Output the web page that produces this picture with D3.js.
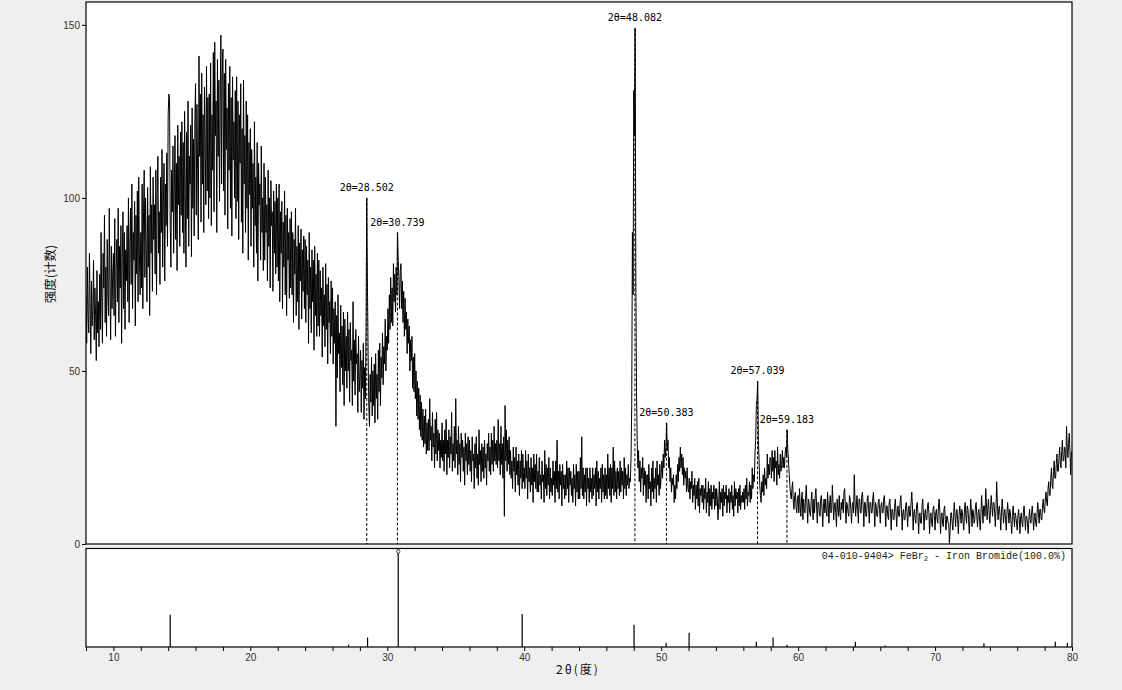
<!DOCTYPE html>
<html>
<head>
<meta charset="utf-8">
<script src="https://cdn.jsdelivr.net/npm/d3@7"></script>
<style>
  html, body { margin: 0; padding: 0; background: #efefef; }
  svg { display: block; }
</style>
</head>
<body>
<svg id="chart" width="1122" height="690"></svg>
<script>
// ---------------- DATA ----------------
const twoThetaStart = 8.0;
const twoThetaStep = 0.05;

const counts08to18 = [
  72,58,80,66,61,84,70,55,76,63,68,82,59,74,66,53,79,61,70,57,
  78,62,90,70,58,84,74,95,64,80,60,88,72,66,97,75,59,86,68,78,
  84,66,94,60,79,88,70,97,64,86,74,92,58,83,96,68,90,62,85,76,
  92,70,100,64,86,97,75,104,68,90,82,99,63,95,78,102,70,106,84,72,
  90,74,104,68,96,108,77,100,85,70,103,80,95,66,109,84,98,73,106,88,
  98,78,108,72,101,112,84,96,75,106,90,114,80,99,110,76,104,92,113,86,
  124,130,129,92,80,108,96,115,84,103,118,88,110,79,121,98,112,86,119,95,
  122,90,116,84,125,101,80,119,94,128,86,112,104,121,83,126,97,117,89,123,
  133,95,127,108,88,141,112,130,93,136,104,124,90,132,116,98,138,102,129,94,
  130,100,139,92,124,108,142,96,145,118,128,90,140,112,134,99,127,147,104,136
];
const counts18to28 = [
  143,102,136,95,140,114,126,91,133,108,138,97,129,89,135,111,122,100,131,94,
  135,99,128,88,124,110,133,93,120,84,134,104,118,90,128,97,124,82,116,101,
  120,86,114,97,110,80,122,92,106,84,116,76,110,98,104,82,115,90,100,79,
  110,82,106,90,98,76,108,86,100,74,105,92,96,73,102,84,99,78,104,80,
  100,76,104,70,96,84,99,68,93,80,102,72,95,66,97,82,90,71,94,74,
  96,72,90,64,88,78,97,66,86,70,92,62,87,76,91,65,85,73,89,68,
  88,64,86,72,82,58,90,68,80,61,85,70,82,56,86,66,78,60,84,63,
  82,60,79,66,74,54,80,63,72,57,81,62,75,52,77,64,70,55,76,60,
  74,52,68,58,70,34,66,48,72,55,61,44,69,51,63,46,67,40,65,50,
  60,45,67,50,62,41,64,53,56,40,70,47,59,43,62,52,55,38,60,44
];
const counts28to38 = [
  48,56,38,53,45,58,36,51,42,63,100,76,55,40,34,49,41,54,37,50,
  40,52,35,55,42,49,36,56,44,58,40,54,48,61,46,57,52,65,50,60,
  56,68,58,72,62,77,64,74,63,81,70,78,67,80,72,90,82,76,68,79,
  81,68,76,64,73,60,71,62,67,55,65,58,63,50,59,53,60,45,54,44,
  55,42,50,37,47,36,45,33,43,31,41,30,39,28,37,29,39,26,35,27,
  36,27,42,30,34,24,38,28,32,22,36,26,38,24,33,27,32,22,30,25,
  35,24,30,21,33,26,36,20,30,25,33,22,31,26,38,21,29,24,34,22,
  42,26,30,20,34,23,29,18,32,25,30,21,28,17,32,24,29,20,31,23,
  30,21,27,18,31,24,26,16,29,22,31,19,26,17,33,23,27,18,29,21,
  28,19,30,22,26,17,29,24,32,21,28,20,32,23,30,21,34,24,29,23
];
const counts38to48 = [
  30,22,36,24,29,20,34,23,29,19,31,8,40,24,33,21,30,23,31,20,
  27,19,24,16,28,21,25,15,28,20,24,17,26,14,24,19,27,16,26,18,
  22,16,27,19,24,13,26,18,22,15,25,17,22,12,26,18,23,16,26,15,
  21,15,25,17,20,13,24,18,20,12,27,16,23,14,22,17,25,13,22,15,
  19,14,24,17,21,12,24,16,30,15,21,13,23,17,21,11,23,16,20,13,
  20,14,24,16,22,12,22,17,21,14,19,12,23,16,20,11,23,15,21,13,
  21,13,25,16,31,14,22,13,20,15,22,11,22,16,19,12,22,15,19,13,
  22,14,20,16,22,11,24,15,21,13,19,16,22,12,23,15,20,13,22,14,
  20,13,26,16,22,14,23,12,22,16,28,14,24,15,21,13,22,16,21,14,
  24,15,22,17,21,13,25,16,22,14,20,17,23,16,19,18,25,40,90,72
];
const counts48to58 = [
  131,118,149,76,44,30,22,27,18,24,15,22,19,25,14,22,17,21,12,20,
  20,13,23,16,18,11,22,15,24,13,19,16,22,12,24,17,20,14,23,16,
  20,24,19,26,22,30,25,28,35,27,30,22,25,18,22,15,19,17,20,12,
  17,13,20,16,23,18,25,21,28,22,26,20,25,17,22,19,21,15,22,16,
  15,19,13,18,16,21,12,17,14,19,10,17,13,18,11,19,9,16,14,17,
  12,17,10,16,13,19,9,15,12,18,8,16,11,17,10,15,13,17,10,16,
  11,16,13,7,12,18,10,15,12,16,8,17,11,15,13,17,9,14,12,16,
  9,15,12,17,10,14,8,18,11,16,13,15,9,16,11,17,10,14,12,15,
  12,16,10,17,13,19,11,15,14,18,12,17,13,22,16,20,18,26,30,40,
  42,47,30,24,17,14,12,18,15,20,14,22,17,19,16,26,19,23,20,25
];
const counts58to68 = [
  24,19,27,21,25,18,27,22,24,17,28,20,23,19,26,21,23,27,22,25,
  22,26,28,25,33,27,24,20,17,14,13,16,18,12,10,14,15,11,9,13,
  14,9,16,11,8,13,15,7,13,10,9,14,17,11,6,13,12,9,8,12,
  15,10,7,13,9,14,16,11,6,12,12,9,8,13,14,10,5,11,13,9,
  13,10,8,15,11,6,12,14,9,10,17,12,7,11,12,9,5,13,10,8,
  14,9,7,12,10,13,9,15,16,11,6,12,11,9,8,14,13,10,6,11,
  12,9,20,13,8,11,14,10,6,13,13,9,9,14,15,11,5,12,12,8,
  8,13,14,10,6,12,12,9,9,13,15,10,5,12,11,8,8,12,13,10,
  6,11,12,9,9,13,14,10,5,11,11,8,7,12,13,9,4,10,10,7,
  7,11,13,9,5,10,11,8,8,12,14,10,4,9,10,7,7,11,12,9
];
const counts68to80 = [
  5,10,11,8,8,12,15,11,4,9,10,7,6,11,12,9,3,8,9,6,
  6,11,13,9,4,9,10,7,7,11,12,9,3,8,9,6,5,10,11,8,
  4,9,10,7,6,11,13,9,3,8,9,6,5,10,11,7,4,8,8,6,
  6,0,4,9,9,6,4,8,12,9,5,9,10,7,3,8,11,9,6,10,
  9,6,4,10,12,8,6,11,10,7,3,8,13,10,5,10,9,6,7,11,
  12,8,5,9,10,7,4,9,14,10,6,11,11,8,16,12,7,10,13,9,
  6,10,14,11,8,12,12,9,5,10,18,12,7,10,11,8,4,9,13,10,
  6,9,10,7,4,9,12,9,6,10,9,6,3,8,11,8,5,9,8,6,
  4,8,10,7,3,8,9,6,5,9,11,8,4,8,8,6,3,7,10,7,
  6,9,11,8,4,8,9,6,5,9,12,9,6,10,10,7,7,11,13,10,
  9,13,15,12,11,16,18,14,14,19,22,17,16,21,24,19,19,23,26,21,
  21,25,28,23,22,27,30,24,24,28,27,22,34,28,25,29,32,27,20,26,
  27
];

// labelled peaks
const peakPos    = [28.502, 30.739, 48.082, 50.383, 57.039, 59.183];
const peakHeight = [100, 90, 149, 35, 47, 33];

// reference card 04-010-9404 FeBr2 stick pattern (relative intensity %)
const refPos = [14.15, 27.17, 28.56, 30.8, 39.85, 48.02, 50.36, 52.04, 56.95, 58.17, 59.19, 64.18, 66.35, 73.57, 78.78, 79.66];
const refInt = [34, 2.5, 10, 100, 35, 23.5, 4.5, 15, 5.5, 10, 2.5, 5.5, 1.5, 4, 5.5, 4.5];

const yTicks = [0, 50, 100, 150];
const xTicks = d3.range(8, 81, 2);
const xLabelTicks = [10, 20, 30, 40, 50, 60, 70, 80];

const yTitle = "强度(计数)";
const xTitle = "2θ(度)";
const refLegend = ["04-010-9404> FeBr", "2", " - Iron Bromide(100.0%)"];

// ---------------- BUILD ----------------
const counts = [].concat(counts08to18, counts18to28, counts28to38, counts38to48, counts48to58, counts58to68, counts68to80);
const pattern = counts.map((c, i) => ({ t: twoThetaStart + i * twoThetaStep, c }));

const svg = d3.select("#chart");
const L = 86, R = 1072, T = 2, B = 544;
const LT = 548.5, LB = 647;

const x = d3.scaleLinear().domain([8, 80]).range([L, R]);
const y = d3.scaleLinear().domain([0, 156.6]).range([B, T]);
const yRef = d3.scaleLinear().domain([0, 100]).range([LB, 552.5]);

// panels
svg.append("rect").attr("x", L).attr("y", T).attr("width", R - L).attr("height", B - T)
  .attr("fill", "#fff").attr("stroke", "#000").attr("stroke-width", 1.2);
svg.append("rect").attr("x", L).attr("y", LT).attr("width", R - L).attr("height", LB - LT)
  .attr("fill", "#fff").attr("stroke", "#000").attr("stroke-width", 1.2);

svg.append("clipPath").attr("id", "clipMain").append("rect")
  .attr("x", L).attr("y", T).attr("width", R - L).attr("height", B - T);

// peak dashed lines
svg.append("g").selectAll("line").data(peakPos).join("line")
  .attr("x1", d => x(d)).attr("x2", d => x(d))
  .attr("y1", (d, i) => y(peakHeight[i])).attr("y2", B)
  .attr("stroke", "#000").attr("stroke-width", 1)
  .attr("stroke-dasharray", "3,2");

// pattern line
svg.append("path").datum(pattern)
  .attr("clip-path", "url(#clipMain)")
  .attr("fill", "none").attr("stroke", "#000").attr("stroke-width", 1)
  .attr("d", d3.line().x(d => x(d.t)).y(d => y(d.c)));

// peak labels
svg.append("g").selectAll("text").data(peakPos).join("text")
  .attr("x", d => x(d)).attr("y", (d, i) => y(peakHeight[i]) - 7)
  .attr("text-anchor", "middle")
  .attr("font-family", "'DejaVu Sans Mono', monospace").attr("font-size", 10)
  .attr("fill", "#000")
  .text(d => "2θ=" + d.toFixed(3));

// y axis
const yAxis = svg.append("g").attr("transform", `translate(${L},0)`)
  .call(d3.axisLeft(y).tickValues(yTicks).tickSize(4).tickPadding(2).tickFormat(d3.format("d")));
yAxis.select(".domain").remove();
yAxis.selectAll("line").attr("stroke", "#000");
yAxis.selectAll("text").attr("font-family", "'Liberation Sans', Arial, sans-serif")
  .attr("font-size", 10).attr("fill", "#333");

// reference sticks
svg.append("g").selectAll("line").data(refPos).join("line")
  .attr("x1", d => x(d)).attr("x2", d => x(d))
  .attr("y1", LB).attr("y2", (d, i) => yRef(refInt[i]))
  .attr("stroke", "#000").attr("stroke-width", 1.2);
const topIdx = refInt.indexOf(d3.max(refInt));
svg.append("path")
  .attr("d", d3.symbol(d3.symbolDiamond, 10)())
  .attr("transform", `translate(${x(refPos[topIdx])},${yRef(refInt[topIdx]) - 1})`)
  .attr("fill", "#fff").attr("stroke", "#000").attr("stroke-width", 0.8);

// reference legend
const leg = svg.append("text").attr("x", 1066).attr("y", 558.5)
  .attr("text-anchor", "end")
  .attr("font-family", "'Liberation Mono', 'Courier New', monospace").attr("font-size", 10)
  .attr("fill", "#222");
leg.append("tspan").text(refLegend[0]);
leg.append("tspan").attr("dy", 2).attr("font-size", 7).text(refLegend[1]);
leg.append("tspan").attr("dy", -2).text(refLegend[2]);

// x axis
const xAxis = svg.append("g").attr("transform", `translate(0,${LB})`)
  .call(d3.axisBottom(x).tickValues(xTicks).tickSize(4).tickPadding(3)
    .tickFormat(d => xLabelTicks.includes(d) ? d : ""));
xAxis.select(".domain").remove();
xAxis.selectAll("line").attr("stroke", "#000");
xAxis.selectAll("text").attr("font-family", "'Liberation Sans', Arial, sans-serif")
  .attr("font-size", 10).attr("fill", "#333");

// titles
svg.append("text").attr("transform", "translate(49,274) rotate(-90)")
  .attr("text-anchor", "middle").attr("dominant-baseline", "central")
  .attr("font-family", "'Noto Sans CJK SC', sans-serif").attr("font-size", 12.5)
  .attr("fill", "#111").text(yTitle);
svg.append("text").attr("x", 578).attr("y", 674)
  .attr("text-anchor", "middle").attr("letter-spacing", 2)
  .attr("font-family", "'Noto Sans CJK SC', sans-serif").attr("font-size", 12)
  .attr("fill", "#111").text(xTitle);
</script>
</body>
</html>
